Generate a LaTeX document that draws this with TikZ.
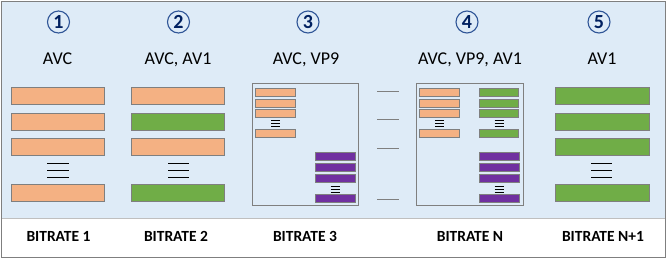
\documentclass[tikz,border=0pt]{standalone}
\usepackage{fontspec}
\setmainfont{Carlito}
\definecolor{panelblue}{RGB}{222,235,247}
\definecolor{avcorange}{RGB}{244,177,131}
\definecolor{avgreen}{RGB}{112,173,71}
\definecolor{vppurple}{RGB}{112,48,160}
\definecolor{edgegray}{RGB}{127,127,127}
\definecolor{ringblue}{RGB}{47,85,151}
\definecolor{digitnavy}{RGB}{0,32,96}
\tikzset{
  avcbar/.style={draw=edgegray, fill=avcorange, line width=0.9pt},
  avbar/.style={draw=edgegray, fill=avgreen, line width=0.9pt},
  vpbar/.style={draw=edgegray, fill=vppurple, line width=0.9pt},
  num/.style={circle, draw=ringblue, line width=1.1pt, minimum size=22pt, inner sep=0pt,
    text=digitnavy, font=\fontsize{20}{20}\selectfont\bfseries},
  codec/.style={anchor=base, font=\fontsize{18}{18}\selectfont},
  rate/.style={anchor=base, font=\fontsize{15.5}{15.5}\selectfont\bfseries}
}
\begin{document}
\begin{tikzpicture}[x=1pt, y=-1pt]
  \useasboundingbox (0,0) rectangle (666,258);
  % Sfondo e cornice
  \fill[panelblue] (1,1) rectangle (665,218);
  \draw[gray!50, line width=0.9pt] (1,218) -- (665,218);
  \draw[edgegray, line width=0.9pt] (1,1) rectangle (665,257);

  % Numeri cerchiati
  \node[num] (n1) at (58.5,22) {1};
  \node[num] (n2) at (178.5,22) {2};
  \node[num] (n3) at (308,22) {3};
  \node[num] (n4) at (467,22) {4};
  \node[num] (n5) at (599,22) {5};

  % Codec
  \node[codec] (c1) at (57.5,64) {AVC};
  \node[codec] (c2) at (178,64) {AVC, AV1};
  \node[codec] (c3) at (306,64) {AVC, VP9};
  \node[codec] (c4) at (470,64) {AVC, VP9, AV1};
  \node[codec] (c5) at (602,64) {AV1};

  % Colonna 1: solo AVC
  \foreach \ya/\yb in {87/104, 113/130, 138/155, 184/201}
    \draw[avcbar] (11,\ya) rectangle (104,\yb);
  % Colonna 2: AVC e AV1 alternati
  \draw[avcbar] (131,87) rectangle (224,104);
  \draw[avbar] (131,113) rectangle (224,130);
  \draw[avcbar] (131,138) rectangle (224,155);
  \draw[avbar] (131,184) rectangle (224,201);
  % Colonna 5: solo AV1
  \foreach \ya/\yb in {87/104, 113/130, 138/155, 184/201}
    \draw[avbar] (555,\ya) rectangle (649,\yb);
  % Righe "ecc." grandi
  \foreach \xa/\xb in {47/69, 168/189, 591/612}
    \foreach \y in {163,170,177}
      \draw[line width=0.9pt] (\xa,\y) -- (\xb,\y);

  % Colonna 3: riquadro AVC + VP9
  \draw[edgegray, line width=0.9pt] (252,83) rectangle (358,205);
  \foreach \ya/\yb in {88/96, 99/107, 109.5/117, 129/137}
    \draw[avcbar] (255.5,\ya) rectangle (295.5,\yb);
  \foreach \ya/\yb in {152/160, 163/171, 174/182, 194/202}
    \draw[vpbar] (315,\ya) rectangle (355.5,\yb);

  % Colonna 4: riquadro AVC + AV1 + VP9
  \draw[edgegray, line width=0.9pt] (416,83) rectangle (523,205);
  \foreach \ya/\yb in {88/96, 99/107, 109.5/117, 129/137}
    \draw[avcbar] (419.5,\ya) rectangle (459.5,\yb);
  \foreach \ya/\yb in {88/96, 99/107, 109.5/117, 129/137}
    \draw[avbar] (479,\ya) rectangle (518.5,\yb);
  \foreach \ya/\yb in {152/160, 163/171, 174/182, 194/202}
    \draw[vpbar] (479,\ya) rectangle (519,\yb);

  % Righe "ecc." piccole
  \foreach \xm/\ym in {275.5/120.5, 335/186, 439.5/120.5, 499/120.5, 499/186}
    \foreach \d in {0,3,6}
      \draw[line width=0.8pt] (\xm-4.5,\ym+\d) -- (\xm+4.5,\ym+\d);

  % Trattini tra le colonne 3 e 4
  \foreach \y in {91,119,148,199}
    \draw[edgegray, line width=0.8pt] (377,\y) -- (399,\y);

  % Bitrate
  \node[rate] (r1) at (58.5,241.5) {BITRATE 1};
  \node[rate] (r2) at (176,241.5) {BITRATE 2};
  \node[rate] (r3) at (305,241.5) {BITRATE 3};
  \node[rate] (r4) at (470,241.5) {BITRATE N};
  \node[rate] (r5) at (603,241.5) {BITRATE N+1};
\end{tikzpicture}
\end{document}
